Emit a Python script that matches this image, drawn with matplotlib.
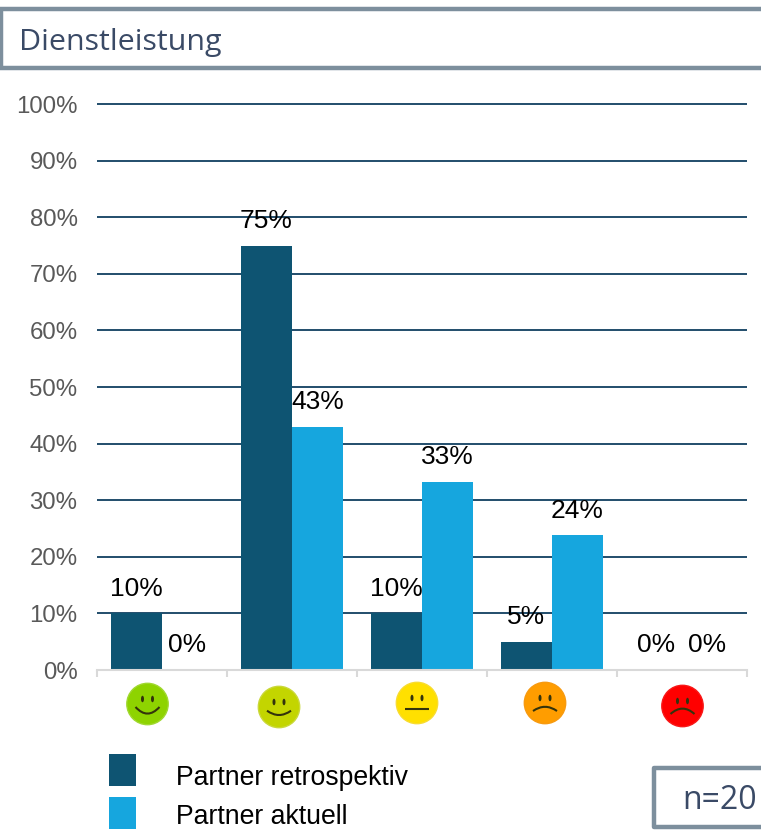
import matplotlib
matplotlib.use("Agg")
import matplotlib.pyplot as plt
from matplotlib.patches import Rectangle, Circle, Ellipse, PathPatch
from matplotlib.path import Path

W, H = 761, 830
title = "Dienstleistung"
note = "n=20"
series_names = ["Partner retrospektiv", "Partner aktuell"]
retrospektiv = [10, 75, 10, 5, 0]
aktuell = [0, 42.9, 33.3, 23.8, 0]
y_ticks = list(range(0, 101, 10))
face_colors = ["#8ed300", "#c3d500", "#ffe000", "#ff9d00", "#ff0000"]
face_edges = ["#a0d830", "#cad83a", "#f8dc30", "#f79a10", "#f81818"]
face_mood = [1.1, 0.72, 0.0, -0.7, -0.9]   # curvature of each mouth
mouth_drop = [3, 3.7, 6, 8, 8]
dark, light = "#0e5472", "#16a6de"
GRID = "#103f60"; AXIS = "#d9d9d9"; TICK = "#595959"; FRAME = "#7d8f9d"; INK = "#3a4a66"

plt.rcParams["font.family"] = ["Liberation Sans", "DejaVu Sans"]
fig = plt.figure(figsize=(W / 100, H / 100), dpi=100)
ax = fig.add_axes([97 / W, (H - 670) / H, 650 / W, 566 / H])
ax.set_xlim(-0.5, 4.5)
ax.set_ylim(0, 100)

bw = 51 / 130
ax.yaxis.grid(True, color=GRID, lw=1.3, zorder=0, clip_on=False, solid_capstyle="butt")
ax.set_axisbelow(True)
b1 = ax.bar([i - bw / 2 for i in range(5)], retrospektiv, bw, color=dark, zorder=2, label=series_names[0])
b2 = ax.bar([i + bw / 2 for i in range(5)], aktuell, bw, color=light, zorder=2, label=series_names[1])

for bars, vals in ((b1, retrospektiv), (b2, aktuell)):
    for r, v in zip(bars, vals):
        ax.annotate(f"{v:.0f}%", (r.get_x() + r.get_width() / 2, v), xytext=(0, 17.8), textcoords="offset points",
                    ha="center", va="center", fontsize=19, color="#000000", zorder=5, annotation_clip=False)

for s in ("top", "right", "left"):
    ax.spines[s].set_visible(False)
ax.spines["bottom"].set_color(AXIS)
ax.spines["bottom"].set_linewidth(1.5)
ax.spines["bottom"].set_zorder(3)
ax.set_xticks([i - 0.5 for i in range(6)])
ax.set_xticklabels([])
ax.tick_params(axis="x", length=5, width=1.5, color=AXIS)
ax.set_yticks(y_ticks)
ax.set_yticklabels([f"{t}%" for t in y_ticks], fontsize=17.3, color=TICK)
ax.tick_params(axis="y", length=0, pad=14)

# overlay in pixel coordinates for the decorations
ov = fig.add_axes([0, 0, 1, 1], zorder=10)
ov.set_xlim(0, W); ov.set_ylim(H, 0); ov.axis("off"); ov.patch.set_alpha(0)

ov.add_patch(Rectangle((1, 9.5), W + 5, 59, fc="white", ec=FRAME, lw=3.2))
ov.text(19.5, 50, title, fontsize=21.9, color=INK, family="Open Sans", va="baseline", ha="left")
ov.add_patch(Rectangle((653.5, 768), W, 58.5, fc="white", ec=FRAME, lw=3.2, joinstyle="round"))
ov.text(682, 809, note, fontsize=23, color=INK, family="Open Sans", va="baseline", ha="left")

centers = [(147.5, 704), (279, 707), (417, 703), (545, 703), (682.5, 706)]
for (cx, cy), col, edge, m, d in zip(centers, face_colors, face_edges, face_mood, mouth_drop):
    ov.add_patch(Circle((cx, cy), 20.7, fc=col, ec=edge, lw=1.0))
    for dx in (-5, 5):
        ov.add_patch(Ellipse((cx + dx, cy - 5), 3, 6.5, fc="#33330c", ec="none"))
    y0 = cy + d
    path = Path([(cx - 12, y0), (cx, y0 + 12 * m), (cx + 12, y0)], [Path.MOVETO, Path.CURVE3, Path.CURVE3])
    ov.add_patch(PathPatch(path, fc="none", ec="#33330c", lw=1.5))

fs = 19.2
px = fs * 100 / 72
leg = fig.legend(handles=[b1, b2], labels=series_names, loc="upper left",
                 bbox_to_anchor=(109 / W, (H - 754) / H), frameon=False, fontsize=fs, borderpad=0, borderaxespad=0,
                 handlelength=27 / px, handleheight=1.47, labelspacing=0.43, handletextpad=40 / px)
for t, dy in zip(leg.get_texts(), (-6, -2)):
    t.set_y(dy)

fig.savefig("out.png", dpi=100, facecolor="white")
